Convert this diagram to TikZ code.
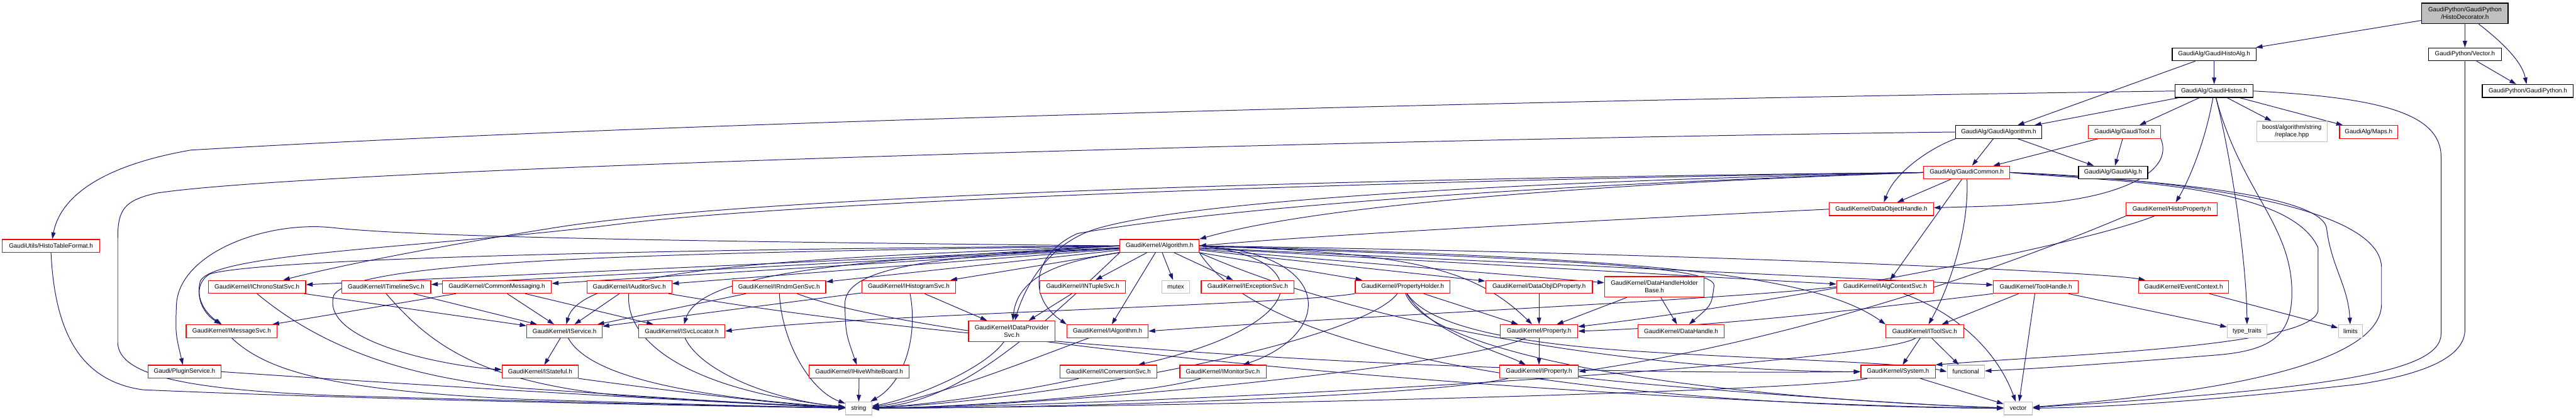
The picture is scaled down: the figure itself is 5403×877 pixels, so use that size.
\documentclass[tikz,border=0pt]{standalone}
\usepackage{fontspec}
\setmainfont{Liberation Sans}
\usetikzlibrary{arrows.meta}
\definecolor{edgeblue}{HTML}{191970}
\definecolor{boxred}{HTML}{FF0000}
\definecolor{sysgrey}{HTML}{BFBFBF}
\newcommand\fnt{\fontsize{13}{16}\selectfont}
\pgfdeclarelayer{back}
\pgfdeclarelayer{edges}
\pgfsetlayers{back,edges,main}
\begin{document}
\begin{tikzpicture}[x=1pt,y=-1pt,
  box/.style={draw=boxred, line width=1.6pt, fill=white, minimum height=27pt, inner sep=0pt, font=\fnt, align=center},
  blk/.style={box, draw=black},
  sysn/.style={box, draw=sysgrey},
  topn/.style={box, draw=black, fill=sysgrey},
  tall/.style={minimum height=43pt},
  e/.style={draw=edgeblue, line width=1.3pt, -{Triangle[length=14pt,width=9pt]}}]
\begin{pgfonlayer}{back}
\fill[white] (0,0) rectangle (5403,877);
\end{pgfonlayer}
\useasboundingbox (0,0) rectangle (5403,877);
% rank 0-5
\node[topn, tall, minimum width=181pt] (HD) at (5170,28) {GaudiPython/GaudiPython\\/HistoDecorator.h};
\node[blk, minimum width=176pt] (GHA) at (4644,114) {GaudiAlg/GaudiHistoAlg.h};
\node[blk, minimum width=153pt] (VEC) at (5170,114) {GaudiPython/Vector.h};
\node[blk, minimum width=164pt] (GH) at (4644,191) {GaudiAlg/GaudiHistos.h};
\node[blk, minimum width=191pt] (GP) at (5302,191) {GaudiPython/GaudiPython.h};
\node[blk, minimum width=180pt] (GALGO) at (4192,277) {GaudiAlg/GaudiAlgorithm.h};
\node[box, minimum width=151pt] (GT) at (4456,277) {GaudiAlg/GaudiTool.h};
\node[sysn, tall, minimum width=148pt] (BR) at (4807,276) {boost/algorithm/string\\/replace.hpp};
\node[box, minimum width=122pt] (MAPS) at (4968,277) {GaudiAlg/Maps.h};
\node[box, minimum width=181pt] (GC) at (4125,362) {GaudiAlg/GaudiCommon.h};
\node[blk, minimum width=145pt] (GA) at (4432,362) {GaudiAlg/GaudiAlg.h};
\node[box, minimum width=218pt] (DOH) at (3946,439) {GaudiKernel/DataObjectHandle.h};
\node[box, minimum width=191pt] (HP) at (4555,439) {GaudiKernel/HistoProperty.h};
% rank 6
\node[box, minimum width=204pt] (HTF) at (107,516) {GaudiUtils/HistoTableFormat.h};
\node[box, minimum width=166pt] (ALG) at (2432,516) {GaudiKernel/Algorithm.h};
% rank 7
\node[box, minimum width=204pt] (ICS) at (539,602) {GaudiKernel/IChronoStatSvc.h};
\node[box, minimum width=187pt] (ITL) at (810,602) {GaudiKernel/ITimelineSvc.h};
\node[box, minimum width=229pt] (CM) at (1042,602) {GaudiKernel/CommonMessaging.h};
\node[box, minimum width=178pt] (IAS) at (1320,602) {GaudiKernel/IAuditorSvc.h};
\node[box, minimum width=196pt] (IRG) at (1634,602) {GaudiKernel/IRndmGenSvc.h};
\node[box, minimum width=197pt] (IHS) at (1906,602) {GaudiKernel/IHistogramSvc.h};
\node[box, minimum width=180pt] (INT) at (2271,602) {GaudiKernel/INTupleSvc.h};
\node[sysn, minimum width=58pt] (MTX) at (2466,602) {mutex};
\node[box, minimum width=195pt] (IES) at (2617,602) {GaudiKernel/IExceptionSvc.h};
\node[box, minimum width=199pt] (PH) at (2942,602) {GaudiKernel/PropertyHolder.h};
\node[box, minimum width=224pt] (DOP) at (3228,602) {GaudiKernel/DataObjIDProperty.h};
\node[box, tall, minimum width=209pt] (DHHB) at (3470,602) {GaudiKernel/DataHandleHolder\\Base.h};
\node[box, minimum width=203pt] (IACS) at (3954,602) {GaudiKernel/IAlgContextSvc.h};
\node[box, minimum width=178pt] (TH) at (4270,602) {GaudiKernel/ToolHandle.h};
\node[box, minimum width=189pt] (EC) at (4580,602) {GaudiKernel/EventContext.h};
% rank 8
\node[box, minimum width=191pt] (IMS) at (486,695) {GaudiKernel/IMessageSvc.h};
\node[box, minimum width=158pt] (IS) at (1184,695) {GaudiKernel/IService.h};
\node[box, minimum width=180pt] (ISL) at (1430,695) {GaudiKernel/ISvcLocator.h};
\node[box, tall, minimum width=181pt] (IDPS) at (2122,695) {GaudiKernel/IDataProvider\\Svc.h};
\node[box, minimum width=170pt] (IALG) at (2323,695) {GaudiKernel/IAlgorithm.h};
\node[box, minimum width=162pt] (PROP) at (3228,695) {GaudiKernel/Property.h};
\node[box, minimum width=181pt] (DH) at (3526,695) {GaudiKernel/DataHandle.h};
\node[box, minimum width=163pt] (ITS) at (4037,695) {GaudiKernel/IToolSvc.h};
\node[sysn, minimum width=83pt] (TT) at (4713,695) {type\_traits};
\node[sysn, minimum width=51pt] (LIM) at (4930,695) {limits};
% rank 9
\node[box, minimum width=153pt] (PS) at (387,780) {Gaudi/PluginService.h};
\node[box, minimum width=160pt] (IST) at (1133,780) {GaudiKernel/IStateful.h};
\node[box, minimum width=210pt] (IHWB) at (1802,780) {GaudiKernel/IHiveWhiteBoard.h};
\node[box, minimum width=203pt] (ICONV) at (2325,780) {GaudiKernel/IConversionSvc.h};
\node[box, minimum width=181pt] (IMON) at (2565,780) {GaudiKernel/IMonitorSvc.h};
\node[box, minimum width=165pt] (IPROP) at (3228,780) {GaudiKernel/IProperty.h};
\node[box, minimum width=156pt] (SYS) at (3981,780) {GaudiKernel/System.h};
\node[sysn, minimum width=78pt] (FUN) at (4123,780) {functional};
% rank 10
\node[sysn, minimum width=55pt] (STR) at (1801,857) {string};
\node[sysn, minimum width=60pt] (VECT) at (4233,857) {vector};

\begin{pgfonlayer}{edges}
% top part
\draw[e] (HD) -- (GHA);
\draw[e] (HD) -- (VEC);
\draw[e] (HD) .. controls (5250,90) and (5290,130) .. (GP);
\draw[e] (GHA) -- (GH);
\draw[e] (GHA) -- (GALGO);
\draw[e] (VEC) -- (GP);
\draw[e] (VEC) -- (5170,690) .. controls (5172,760) and (5050,790) .. (4950,806) .. controls (4600,845) and (4400,855) .. (VECT);
\draw[e] (GH) -- (GALGO);
\draw[e] (GH) -- (GT);
\draw[e] (GH) .. controls (4625,300) and (4590,380) .. (HP);
\draw[e] (GH) .. controls (4680,330) and (4712,550) .. (TT);
\draw[e] (GH) -- (BR);
\draw[e] (GH) -- (MAPS);
\draw[e] (GH.west) .. controls (3500,205) and (1500,250) .. (400,315) .. controls (200,350) and (125,420) .. (HTF);
\draw[e] (GH.east) .. controls (5000,205) and (5120,240) .. (5120,330) -- (5120,700) .. controls (5120,780) and (4900,815) .. (VECT);
\draw[e] (GH) .. controls (4700,400) and (4805,470) .. (4807,610) .. controls (4808,700) and (4770,735) .. (4650,745) .. controls (4400,765) and (4250,775) .. (FUN);
% GaudiAlgorithm / GaudiTool
\draw[e] (GALGO) -- (GC);
\draw[e] (GALGO) -- (GA);
\draw[e] (GALGO.south west) .. controls (4050,310) and (3975,360) .. (DOH);
\draw[e] (GALGO.west) .. controls (3000,290) and (700,350) .. (330,405) .. controls (260,420) and (247,440) .. (247,500) -- (247,720) .. controls (250,790) and (400,818) .. (700,830) .. controls (1200,845) and (1600,853) .. (STR);
\draw[e] (GT) -- (GC);
\draw[e] (GT) -- (GA);
\draw[e] (GT.south east) .. controls (4560,360) and (4450,410) .. (4300,425) .. controls (4200,432) .. (DOH);
% GaudiCommon
\draw[e] (GC) -- (DOH);
\draw[e] (GC.west) .. controls (3500,380) and (2800,420) .. (ALG.north east);
\draw[e] (GC.west) .. controls (3000,372) and (1600,405) .. (1150,480) .. controls (900,520) and (700,560) .. (ICS);
\draw[e] (GC.west) .. controls (3000,376) and (1700,420) .. (1300,470) .. controls (900,520) and (450,530) .. (420,590) .. controls (410,630) and (430,660) .. (IMS);
\draw[e] (GC) -- (IACS);
\draw[e] (GC) .. controls (4130,480) and (4090,600) .. (ITS);
\draw[e] (GC.east) .. controls (4400,380) and (4800,380) .. (4862,520) -- (4862,650) .. controls (4860,730) and (4300,745) .. (SYS.north east);
\draw[e] (GC.east) .. controls (4450,375) and (4870,400) .. (4880,480) .. controls (4890,560) and (4925,600) .. (LIM);
\draw[e] (GC.east) .. controls (4500,372) and (4990,420) .. (4995,560) -- (4995,640) .. controls (4990,790) and (4500,835) .. (VECT);
\draw[e] (GC.west) .. controls (3200,380) and (2500,420) .. (2300,480) .. controls (2200,510) and (2150,600) .. (IDPS);
\draw[e] (GC.west) .. controls (3300,385) and (2600,430) .. (2260,490) .. controls (2170,530) and (2150,620) .. (IALG.north west);
% HistoProperty, DataObjectHandle
\draw[e] (HP) .. controls (4350,520) and (3700,640) .. (PROP);
\draw[e] (HP.south west) .. controls (4300,520) and (3850,700) .. (IPROP.east);
\draw[e] (DOH.west) .. controls (3500,455) and (2800,490) .. (ALG.east);
% Algorithm.h
\draw[e] (ALG) -- (ICS);
\draw[e] (ALG) -- (ITL);
\draw[e] (ALG) -- (CM);
\draw[e] (ALG) -- (IAS);
\draw[e] (ALG) -- (IRG);
\draw[e] (ALG) -- (IHS);
\draw[e] (ALG) -- (INT);
\draw[e] (ALG) -- (MTX);
\draw[e] (ALG) -- (IES);
\draw[e] (ALG) -- (PH);
\draw[e] (ALG) -- (DOP);
\draw[e] (ALG) -- (DHHB);
\draw[e] (ALG) -- (IACS);
\draw[e] (ALG) -- (TH);
\draw[e] (ALG) -- (IALG);
\draw[e] (ALG.east) .. controls (3500,530) and (4400,570) .. (EC);
\draw[e] (ALG.west) .. controls (1500,522) and (560,540) .. (440,575) .. controls (400,600) and (420,650) .. (IMS);
\draw[e] (ALG.west) .. controls (1600,508) and (900,500) .. (700,478) .. controls (560,462) and (375,530) .. (370,640) .. controls (368,700) .. (PS);
\draw[e] (ALG.west) .. controls (1500,530) and (740,540) .. (700,620) .. controls (670,720) and (950,770) .. (IST);
\draw[e] (ALG.west) .. controls (1700,540) and (1220,560) .. (IS);
\draw[e] (ALG.west) .. controls (1800,545) and (1470,570) .. (ISL);
\draw[e] (ALG.west) .. controls (1950,540) and (1770,560) .. (1772,640) .. controls (1774,700) .. (IHWB);
\draw[e] (ALG.south west) .. controls (2250,545) and (2135,570) .. (IDPS);
\draw[e] (ALG.east) .. controls (2950,530) and (3090,560) .. (PROP);
\draw[e] (ALG.east) .. controls (3300,545) and (3600,560) .. (3595,600) .. controls (3590,640) .. (DH);
\draw[e] (ALG.east) .. controls (3400,540) and (3800,570) .. (ITS.north west);
\draw[e] (ALG.east) .. controls (2760,540) and (2760,680) .. (ICONV);
\draw[e] (ALG.east) .. controls (2800,530) and (2800,700) .. (IMON);
\draw[e] (ALG.south east) .. controls (2900,700) and (3500,780) .. (SYS.west);
\draw[e] (ALG.south west) .. controls (2150,720) and (2000,845) .. (STR);
\draw[e] (ALG.south east) .. controls (2700,820) and (3800,855) .. (VECT);
% lower left
\draw[e] (HTF.south) .. controls (115,700) and (170,800) .. (300,818) .. controls (800,840) and (1500,852) .. (STR);
\draw[e] (PS.east) .. controls (900,810) and (1500,845) .. (STR);
\draw[e] (IMS.south) .. controls (560,780) and (700,820) .. (1100,838) .. controls (1500,850) .. (STR);
\draw[e] (ICS) -- (IS);
\draw[e] (ICS.south) .. controls (640,700) and (800,790) .. (1100,815) .. controls (1500,842) .. (STR);
\draw[e] (ITL) -- (IS);
\draw[e] (ITL.south) .. controls (900,720) and (1000,800) .. (1300,830) .. controls (1600,848) .. (STR);
\draw[e] (CM) -- (IMS);
\draw[e] (CM) -- (IS);
\draw[e] (CM) -- (ISL);
\draw[e] (IAS) -- (IS);
\draw[e] (IAS) .. controls (1310,720) and (1450,820) .. (STR);
\draw[e] (IAS) .. controls (2000,720) and (3000,790) .. (SYS.west);
\draw[e] (IRG) -- (IS);
\draw[e] (IRG) .. controls (1640,720) and (1700,820) .. (STR);
\draw[e] (IRG) .. controls (2000,740) and (3500,850) .. (VECT);
\draw[e] (IHS) -- (IS);
\draw[e] (IHS) -- (IDPS);
\draw[e] (IHS) .. controls (1925,700) and (1900,800) .. (STR);
\draw[e] (INT) -- (IDPS);
\draw[e] (IDPS) .. controls (2060,780) and (1900,840) .. (STR);
\draw[e] (IALG) .. controls (2200,740) and (1950,840) .. (STR);
\draw[e] (IS) -- (IST);
\draw[e] (IS) .. controls (1230,780) and (1400,830) .. (STR);
\draw[e] (ISL) .. controls (1470,780) and (1620,840) .. (STR);
\draw[e] (IST.south east) .. controls (1400,820) and (1650,850) .. (STR);
\draw[e] (IHWB) -- (STR);
\draw[e] (ICONV) .. controls (2150,820) and (1950,850) .. (STR);
\draw[e] (IMON) .. controls (2400,830) and (2000,855) .. (STR);
% lower right
\draw[e] (PH) -- (PROP);
\draw[e] (PH.south west) .. controls (2700,640) and (1800,660) .. (ISL.east);
\draw[e] (PH) .. controls (3000,700) and (3150,740) .. (IPROP);
\draw[e] (PH) .. controls (2850,720) and (2200,840) .. (STR);
\draw[e] (PH) .. controls (3000,740) and (3500,830) .. (VECT);
\draw[e] (PH) .. controls (3000,690) and (3200,720) .. (3400,735) .. controls (3700,755) and (4000,760) .. (FUN.west);
\draw[e] (DOP) -- (PROP);
\draw[e] (DHHB) -- (PROP);
\draw[e] (DHHB) -- (DH);
\draw[e] (PROP) -- (IPROP);
\draw[e] (PROP) .. controls (3100,760) and (2300,850) .. (STR);
\draw[e] (IPROP) .. controls (3000,830) and (2300,855) .. (STR);
\draw[e] (IPROP) .. controls (3450,810) and (4000,850) .. (VECT);
\draw[e] (IACS.west) .. controls (3600,630) and (2900,660) .. (IALG.east);
\draw[e] (IACS) .. controls (4110,660) and (4190,740) .. (VECT);
\draw[e] (TH) -- (ITS);
\draw[e] (TH) -- (VECT);
\draw[e] (TH) -- (TT);
\draw[e] (TH.south west) .. controls (3900,650) and (3600,685) .. (PROP.east);
\draw[e] (ITS) -- (SYS);
\draw[e] (ITS) -- (FUN);
\draw[e] (ITS) .. controls (3950,760) and (2600,845) .. (STR);
\draw[e] (SYS) -- (VECT);
\draw[e] (SYS) .. controls (3800,820) and (2600,852) .. (STR);
\draw[e] (EC) -- (LIM);
\end{pgfonlayer}
\end{tikzpicture}
\end{document}
